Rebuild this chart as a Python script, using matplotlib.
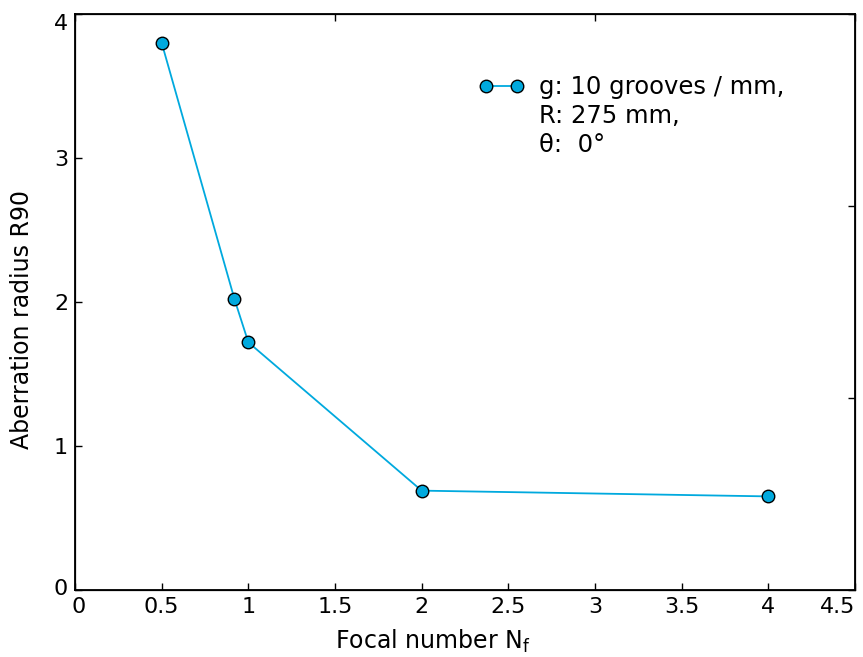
import matplotlib
matplotlib.use('Agg')
import matplotlib.pyplot as plt
import matplotlib.transforms as mtransforms
from matplotlib.lines import Line2D

# data
focal_number = [0.5, 0.92, 1.0, 2.0, 4.0]
r90 = [3.80, 2.02, 1.72, 0.69, 0.65]
x_ticks = [0, 0.5, 1, 1.5, 2, 2.5, 3, 3.5, 4, 4.5]
y_ticks = [0, 1, 2, 3, 4]
legend_lines = ['g: 10 grooves / mm,', 'R: 275 mm,', 'θ:  0°']

color = '#00a9de'

fig = plt.figure(figsize=(8.63, 6.57), dpi=100)
ax = fig.add_axes([75 / 863, 67 / 657, 780 / 863, 576 / 657])

line, = ax.plot(focal_number, r90, '-o', color=color, lw=1.3,
                markersize=9, markerfacecolor=color, markeredgecolor='black',
                markeredgewidth=1.0, clip_on=False)

ax.set_xlim(0, 4.5)
ax.set_ylim(0, 4)
ax.set_xticks(x_ticks)
ax.set_xticklabels(['%g' % t for t in x_ticks])
ax.set_yticks(y_ticks)
ax.tick_params(direction='in', length=5, width=1, labelsize=16, pad=5)
for s in ax.spines.values():
    s.set_linewidth(1.3)

# end labels are pushed inward in the reference
def nudge(label, dx, dy):
    off = mtransforms.ScaledTranslation(dx / 100, dy / 100, fig.dpi_scale_trans)
    label.set_transform(label.get_transform() + off)

xl = ax.get_xticklabels()
yl = ax.get_yticklabels()
nudge(xl[0], 4, 0)
nudge(xl[-1], -17, 0)
nudge(yl[0], 0, 3)
nudge(yl[-1], 0, -8)

ax.set_xlabel('Focal number N$_{\\mathregular{f}}$', fontsize=17)
ax.xaxis.set_label_coords(0.458, -0.065)
ax.set_ylabel('Aberration radius R90', fontsize=17)
ax.yaxis.set_label_coords(-0.053, 0.47)

# secondary axes on top and right (no labels)
axt = ax.twiny()
axt.set_xlim(0, 3)
axt.set_xticks([0, 1, 2, 3])
axt.set_xticklabels([])
axt.tick_params(direction='in', length=5, width=1)
axr = ax.twinx()
axr.set_ylim(0, 3)
axr.set_yticks([0, 1, 2, 3])
axr.set_yticklabels([])
axr.tick_params(direction='in', length=5, width=1)

blank = Line2D([], [], linestyle='none', marker='none')
axr.legend([line, blank, blank], legend_lines, loc='upper left',
           bbox_to_anchor=(0.489, 0.932), frameon=False, numpoints=2,
           fontsize=17.5, handlelength=1.9, handletextpad=0.6,
           labelspacing=0.2)

fig.savefig('out.png', dpi=100)
